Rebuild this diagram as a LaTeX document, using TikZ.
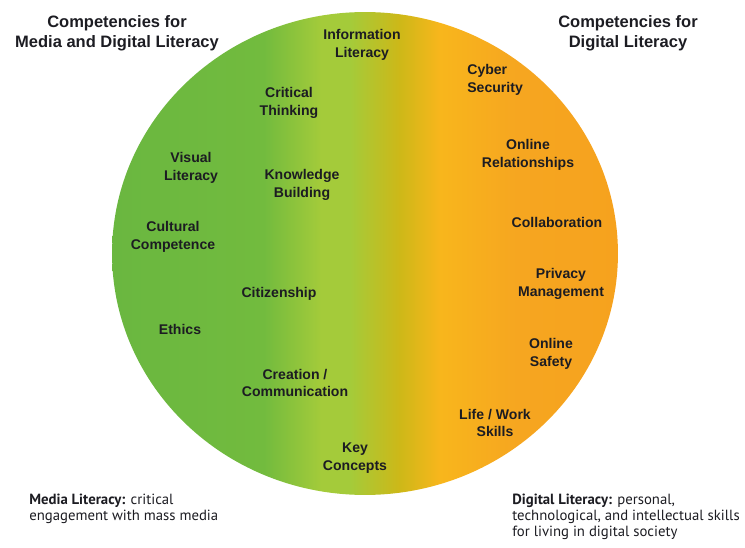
\documentclass[tikz,border=0pt]{standalone}
\usepackage{fontspec}
\setmainfont{Liberation Sans}
\newfontfamily\gillfont{PT Sans}
\definecolor{mlgreen}{RGB}{106,183,64}
\definecolor{mlgreentwo}{RGB}{114,187,62}
\definecolor{mllight}{RGB}{164,203,58}
\definecolor{mlolive}{RGB}{205,184,24}
\definecolor{dlyellow}{RGB}{248,182,28}
\definecolor{dlorange}{RGB}{246,166,32}
\definecolor{dlorangetwo}{RGB}{246,162,30}
\definecolor{txt}{RGB}{28,28,34}
\pgfdeclarehorizontalshading{litshade}{100bp}{color(0bp)=(mlgreen); color(25bp)=(mlgreen); color(40bp)=(mlgreentwo); color(45.7bp)=(mllight); color(48.5bp)=(mllight); color(53.4bp)=(mlolive); color(57.4bp)=(dlyellow); color(65bp)=(dlorange); color(75bp)=(dlorangetwo); color(100bp)=(dlorangetwo)}
\begin{document}
\begin{tikzpicture}[x=0.02cm,y=-0.02cm,
  comp/.style={font=\bfseries\fontsize{8}{10}\selectfont,align=center,text=txt,inner sep=0pt},
  head/.style={font=\bfseries\fontsize{9.4}{11.2}\selectfont,align=center,text=txt,inner sep=0pt},
  defn/.style={font=\gillfont\fontsize{8.4}{8.9}\selectfont,align=left,anchor=north west,text=txt,inner sep=0pt}]
\useasboundingbox (0,0) rectangle (745,548);
\shade[shading=litshade] (365,253.5) ellipse [x radius=5.06cm,y radius=4.83cm];
\node[head] (mdlhead) at (117,33) {Competencies for\\Media and Digital Literacy};
\node[head] (dlhead) at (628,33) {Competencies for\\Digital Literacy};
\node[comp] (info) at (362,45) {Information\\Literacy};
\node[comp] (critical) at (289,103) {Critical\\Thinking};
\node[comp,align=left,anchor=west] (cyber) at (467,80) {Cyber\\Security};
\node[comp] (visual) at (191,168) {Visual\\Literacy};
\node[comp] (knowledge) at (302,185) {Knowledge\\Building};
\node[comp] (relations) at (528,155) {Online\\Relationships};
\node[comp] (cultural) at (173,237) {Cultural\\Competence};
\node[comp] (collab) at (557,222) {Collaboration};
\node[comp] (privacy) at (561,284) {Privacy\\Management};
\node[comp] (citizen) at (279,294) {Citizenship};
\node[comp] (ethics) at (180,329) {Ethics};
\node[comp] (safety) at (551,354) {Online\\Safety};
\node[comp] (creation) at (295,383) {Creation /\\Communication};
\node[comp] (lifework) at (495,423) {Life / Work\\Skills};
\node[comp] (keycon) at (355,458) {Key\\Concepts};
\node[defn] (mldef) at (29,494) {\textbf{Media Literacy:} critical\\engagement with mass media};
\node[defn] (dldef) at (512,494) {\textbf{Digital Literacy:} personal,\\technological, and intellectual skills\\for living in digital society};
\end{tikzpicture}
\end{document}
